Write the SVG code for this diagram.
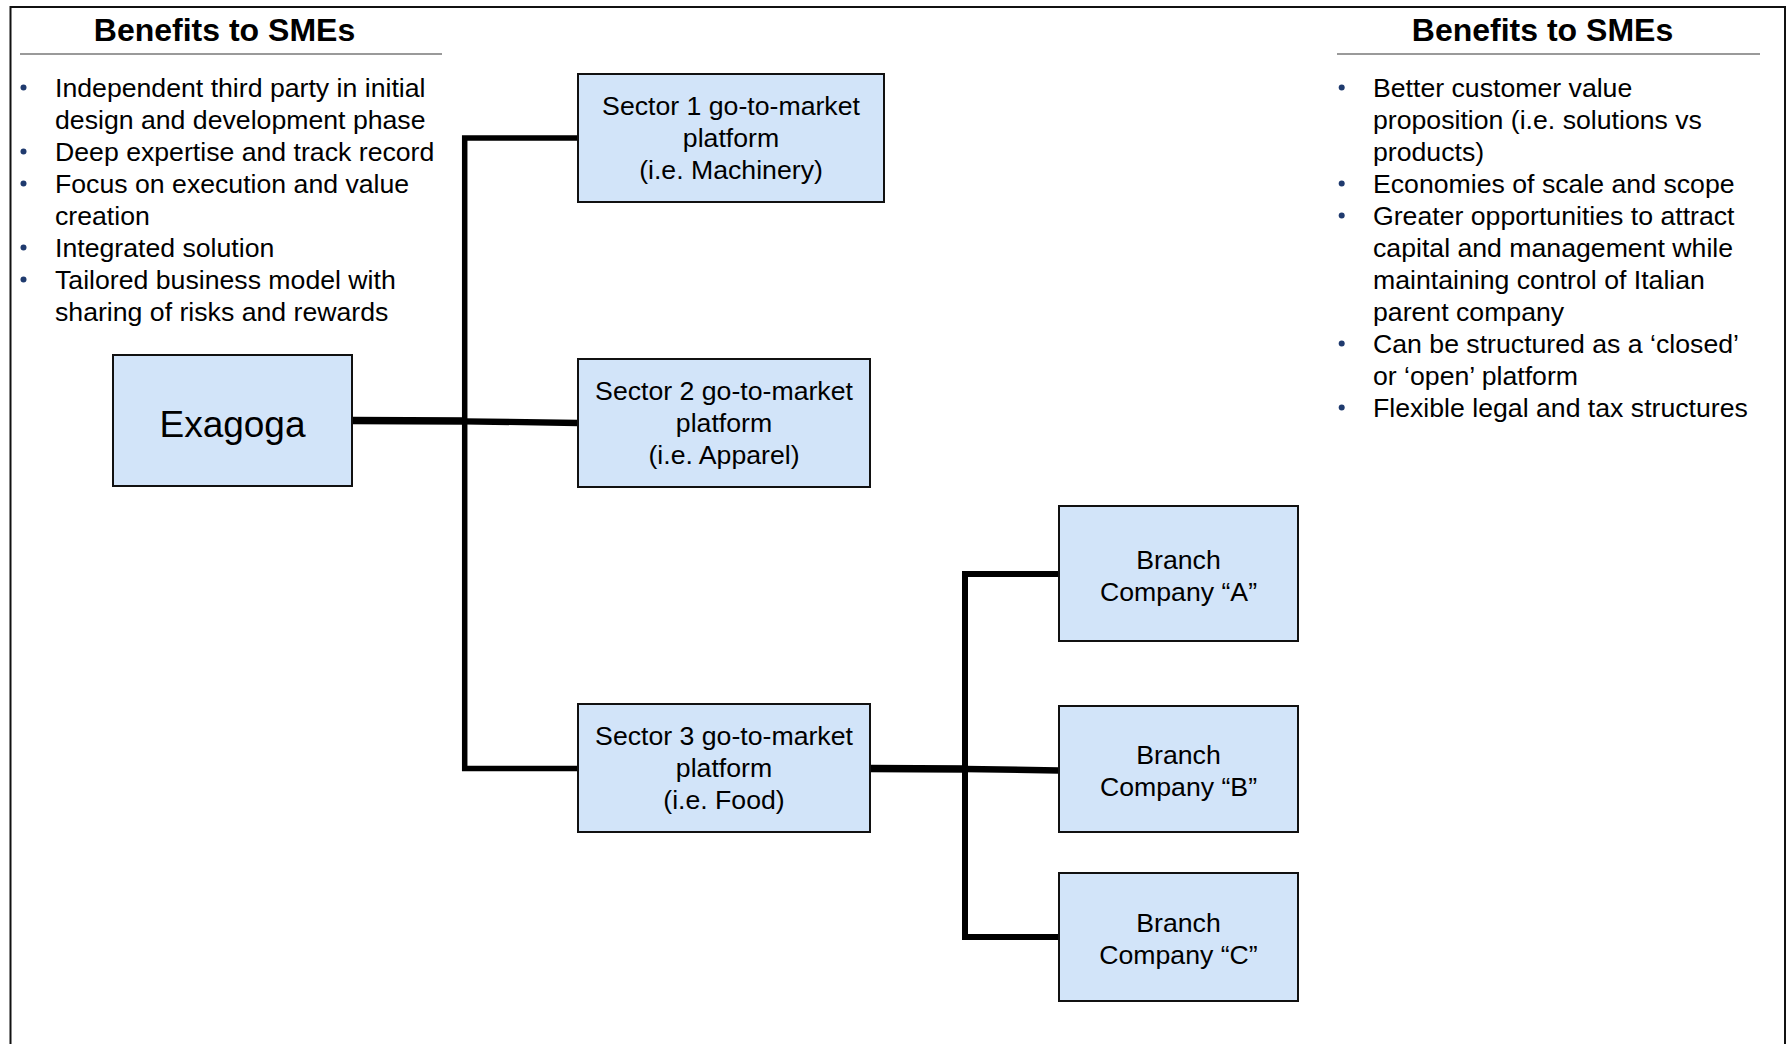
<svg xmlns="http://www.w3.org/2000/svg" width="1787" height="1044" viewBox="0 0 1787 1044">
<style>
  text { font-family: "Liberation Sans", Arial, sans-serif; fill: #000; }
  .title { font-size: 32px; font-weight: bold; text-anchor: middle; }
  .body { font-size: 26.67px; }
  .lbl { font-size: 26.67px; text-anchor: middle; }
  .big { font-size: 37px; text-anchor: middle; }
  .box { fill: #D2E4F9; stroke: #111; stroke-width: 2; }
  .rule { stroke: #9a9a9a; stroke-width: 2; }
  .dot { fill: #1F3A6E; }
  .conn { stroke: #000; stroke-width: 5.5; fill: none; stroke-linejoin: miter; stroke-linecap: butt; }
</style>

<rect x="0" y="0" width="1787" height="1044" fill="#fff"/>
<path d="M10.5 1044 V7 H1785 V1044" fill="none" stroke="#111" stroke-width="2"/>

<g id="left-panel">
  <text class="title" x="224.5" y="41">Benefits to SMEs</text>
  <line class="rule" x1="20" y1="54" x2="442" y2="54"/>
  <circle class="dot" cx="23.5" cy="87.5" r="3"/>
  <circle class="dot" cx="23.5" cy="151.5" r="3"/>
  <circle class="dot" cx="23.5" cy="183.5" r="3"/>
  <circle class="dot" cx="23.5" cy="247.5" r="3"/>
  <circle class="dot" cx="23.5" cy="279.5" r="3"/>
  <text class="body" x="55" y="97">Independent third party in initial</text>
  <text class="body" x="55" y="129">design and development phase</text>
  <text class="body" x="55" y="161">Deep expertise and track record</text>
  <text class="body" x="55" y="193">Focus on execution and value</text>
  <text class="body" x="55" y="225">creation</text>
  <text class="body" x="55" y="257">Integrated solution</text>
  <text class="body" x="55" y="289">Tailored business model with</text>
  <text class="body" x="55" y="321">sharing of risks and rewards</text>
</g>

<g id="right-panel">
  <text class="title" x="1542.5" y="41">Benefits to SMEs</text>
  <line class="rule" x1="1337" y1="54" x2="1760" y2="54"/>
  <circle class="dot" cx="1341.7" cy="87.5" r="3"/>
  <circle class="dot" cx="1341.7" cy="183.5" r="3"/>
  <circle class="dot" cx="1341.7" cy="215.5" r="3"/>
  <circle class="dot" cx="1341.7" cy="343.5" r="3"/>
  <circle class="dot" cx="1341.7" cy="407.5" r="3"/>
  <text class="body" x="1373" y="97">Better customer value</text>
  <text class="body" x="1373" y="129">proposition (i.e. solutions vs</text>
  <text class="body" x="1373" y="161">products)</text>
  <text class="body" x="1373" y="193">Economies of scale and scope</text>
  <text class="body" x="1373" y="225">Greater opportunities to attract</text>
  <text class="body" x="1373" y="257">capital and management while</text>
  <text class="body" x="1373" y="289">maintaining control of Italian</text>
  <text class="body" x="1373" y="321">parent company</text>
  <text class="body" x="1373" y="353">Can be structured as a ‘closed’</text>
  <text class="body" x="1373" y="385">or ‘open’ platform</text>
  <text class="body" x="1373" y="417">Flexible legal and tax structures</text>
</g>

<g id="connectors">
  <polyline class="conn" points="578,138 464.7,138 464.7,768.5 578,768.5"/>
  <line class="conn" x1="352" y1="420.5" x2="466" y2="421" style="stroke-width:7.5"/>
  <line class="conn" x1="464" y1="421.3" x2="578" y2="423" style="stroke-width:6.3"/>
  <polyline class="conn" points="1059,574 965,574 965,937 1059,937" style="stroke-width:6"/>
  <line class="conn" x1="870" y1="768.5" x2="967" y2="769" style="stroke-width:7.5"/>
  <line class="conn" x1="965" y1="769" x2="1059" y2="770.5" style="stroke-width:6.5"/>
</g>

<g id="exagoga">
  <rect class="box" x="113" y="355" width="239" height="131"/>
  <text class="big" x="232.5" y="437">Exagoga</text>
</g>

<g id="sector1">
  <rect class="box" x="578" y="74" width="306" height="128"/>
  <text class="lbl" x="731" y="115">Sector 1 go-to-market</text>
  <text class="lbl" x="731" y="147">platform</text>
  <text class="lbl" x="731" y="179">(i.e. Machinery)</text>
</g>

<g id="sector2">
  <rect class="box" x="578" y="359" width="292" height="128"/>
  <text class="lbl" x="724" y="400">Sector 2 go-to-market</text>
  <text class="lbl" x="724" y="432">platform</text>
  <text class="lbl" x="724" y="464">(i.e. Apparel)</text>
</g>

<g id="sector3">
  <rect class="box" x="578" y="704" width="292" height="128"/>
  <text class="lbl" x="724" y="745">Sector 3 go-to-market</text>
  <text class="lbl" x="724" y="777">platform</text>
  <text class="lbl" x="724" y="809">(i.e. Food)</text>
</g>

<g id="branchA">
  <rect class="box" x="1059" y="506" width="239" height="135"/>
  <text class="lbl" x="1178.5" y="569">Branch</text>
  <text class="lbl" x="1178.5" y="601">Company “A”</text>
</g>

<g id="branchB">
  <rect class="box" x="1059" y="706" width="239" height="126"/>
  <text class="lbl" x="1178.5" y="764">Branch</text>
  <text class="lbl" x="1178.5" y="796">Company “B”</text>
</g>

<g id="branchC">
  <rect class="box" x="1059" y="873" width="239" height="128"/>
  <text class="lbl" x="1178.5" y="932">Branch</text>
  <text class="lbl" x="1178.5" y="964">Company “C”</text>
</g>
</svg>
